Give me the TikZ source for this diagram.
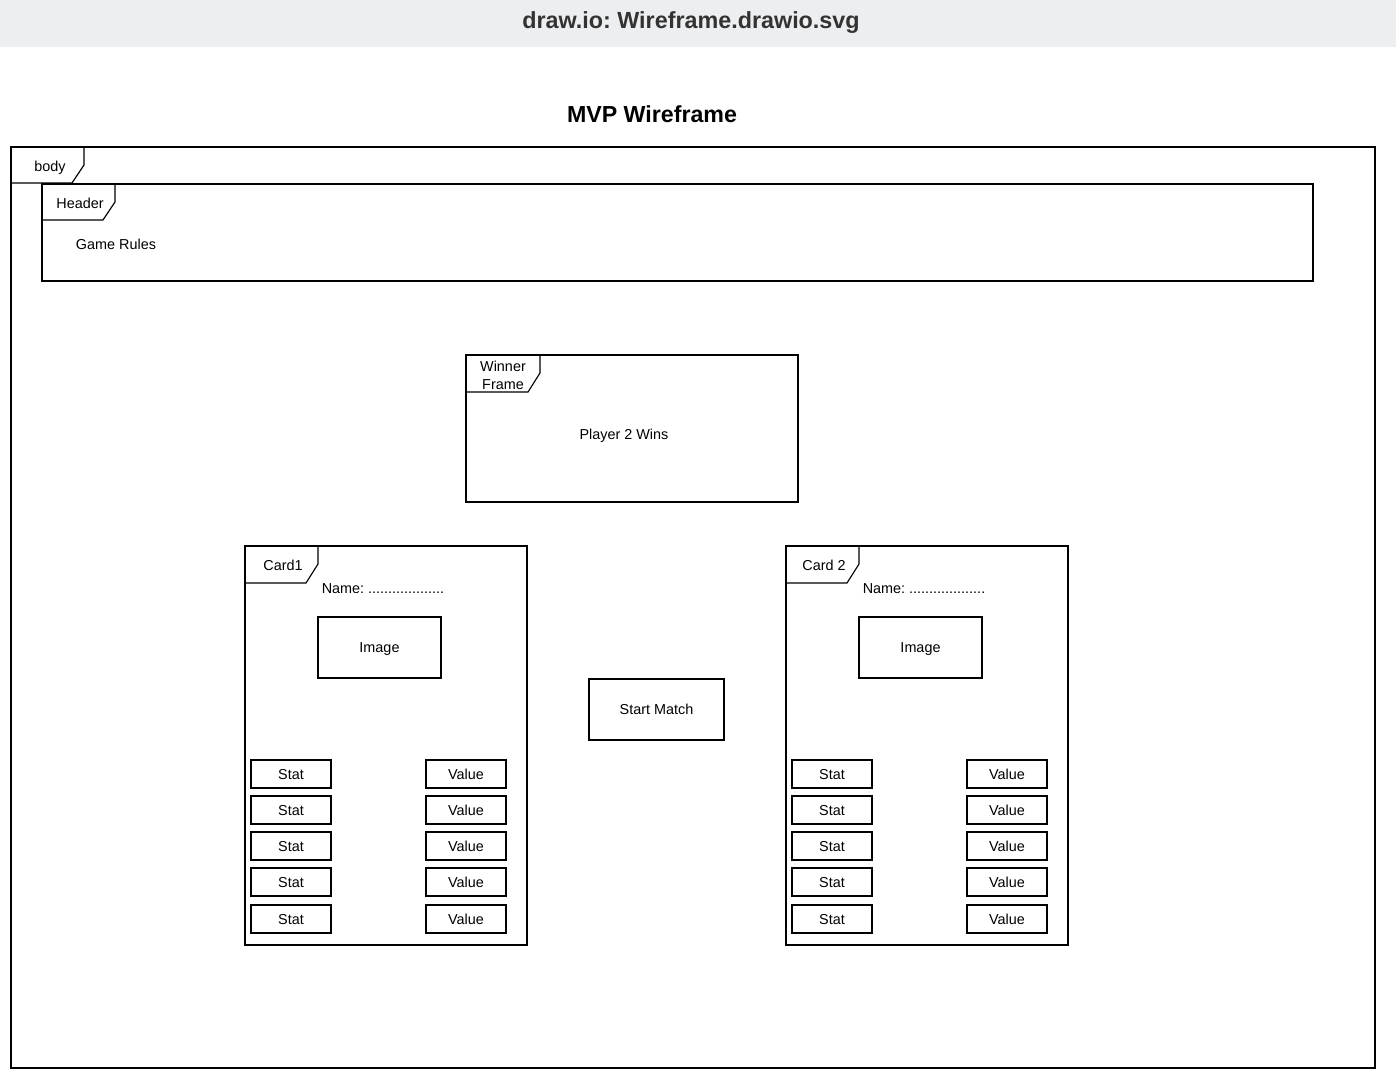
\documentclass[tikz,border=0pt]{standalone}
\usepackage{fontspec}
\setmainfont{Liberation Sans}
\usetikzlibrary{calc}
\frenchspacing
\definecolor{barbg}{HTML}{EDEEF0}
\definecolor{bartext}{HTML}{333333}
\tikzset{
  frameline/.style={draw=black, line width=0.85pt},
  box/.style={draw=black, line width=0.85pt, rectangle, inner sep=0pt, outer sep=0pt, anchor=north west, text height=7.8pt, text depth=0pt, font=\fontsize{10.8}{13}\selectfont},
  lbl/.style={inner sep=0pt, text height=7.8pt, text depth=0pt, font=\fontsize{10.8}{13.5}\selectfont},
}
\newcommand\mktab[3]{%
  \draw[frameline] (#1.north west) ++(73,0) -- ++(0,18) -- ++(-12,18) -- ++(-61,0);
  \node[lbl] (#1-tab) at ($(#1.north west)+(#3,19)$) {#2};
}
\begin{document}
\begin{tikzpicture}[x=0.75pt, y=-0.75pt]
\useasboundingbox (0,0) rectangle (1396,1090);
\fill[barbg] (0,0) rectangle (1396,47);
\node[inner sep=0pt, text height=12.6pt, text depth=0pt, text=bartext, font=\fontsize{17.5}{21}\selectfont\bfseries] (bartitle) at (691,20) {draw.io: Wireframe.drawio.svg};
\node[inner sep=0pt, text height=12.5pt, text depth=0pt, font=\fontsize{17.4}{21}\selectfont\bfseries] (title) at (652,114) {MVP Wireframe};

% body
\node[box, line width=0.95pt, minimum width=1364*0.75pt, minimum height=921*0.75pt] (body) at (11,147) {};
\mktab{body}{body}{39}
% header
\node[box, minimum width=1271*0.75pt, minimum height=97*0.75pt] (header) at (42,184) {};
\mktab{header}{Header}{38}
\node[lbl] (rules) at (116,244) {Game Rules};
% winner frame
\node[box, minimum width=332*0.75pt, minimum height=147*0.75pt] (winner) at (466,355) {};
\draw[frameline] (winner.north west) ++(74,0) -- ++(0,18) -- ++(-12,19) -- ++(-62,0);
\node[inner sep=0pt, font=\fontsize{10.8}{13.5}\selectfont, align=center] (winner-tab) at (503,375.5) {Winner\\Frame};
\node[lbl] (wins) at (624,434) {Player 2 Wins};
% start match
\node[box, minimum width=135*0.75pt, minimum height=61*0.75pt] (start) at (589,679) {Start Match};

% cards
\foreach \c/\dx/\lab in {1/0/Card1, 2/541/Card 2}{
  \node[box, minimum width=282*0.75pt, minimum height=399*0.75pt] (card\c) at (245+\dx,546) {};
  \draw[frameline] (card\c.north west) ++(73,0) -- ++(0,18) -- ++(-12,19) -- ++(-61,0);
  \node[lbl] (card\c-tab) at (283+\dx,565) {\lab};
  \node[lbl] (name\c) at (383+\dx,588) {Name: ...................};
  \node[box, minimum width=123*0.75pt, minimum height=61*0.75pt] (img\c) at (318+\dx,617) {Image};
  \foreach \r/\y in {1/760,2/796,3/832,4/868,5/905}{
    \node[box, minimum width=80*0.75pt, minimum height=28*0.75pt] (c\c stat\r) at (251+\dx,\y) {Stat};
    \node[box, minimum width=80*0.75pt, minimum height=28*0.75pt] (c\c val\r) at (426+\dx,\y) {Value};
  }
}
\end{tikzpicture}
\end{document}
